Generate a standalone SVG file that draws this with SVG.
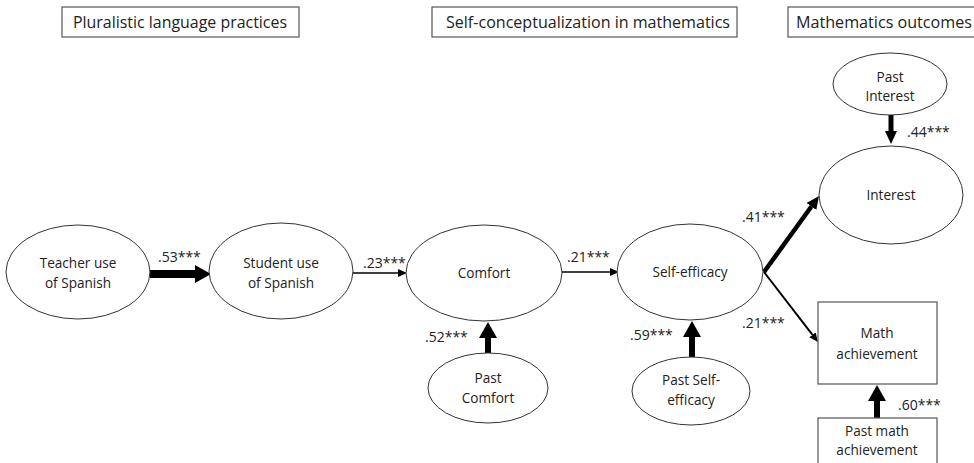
<svg xmlns="http://www.w3.org/2000/svg" width="974" height="463" viewBox="0 0 974 463">
<style>
text{font-family:"Open Sans","Noto Sans","Liberation Sans",sans-serif;fill:#222;font-size:13.6px}
.c{text-anchor:middle}
.h{font-size:16px}
.lb{font-size:14px}
.box{fill:#fff;stroke:#555;stroke-width:1.2}
.el{fill:#fff;stroke:#333;stroke-width:1}
.ln{stroke:#000;fill:none}
</style>
<defs>
<marker id="hl" viewBox="0 -10 20 20" refX="0" refY="0" markerWidth="20" markerHeight="20" markerUnits="userSpaceOnUse" orient="auto"><path d="M0,-9 L16,0 L0,9 z" fill="#000"/></marker>
<marker id="hm" viewBox="0 -10 20 20" refX="0" refY="0" markerWidth="20" markerHeight="20" markerUnits="userSpaceOnUse" orient="auto"><path d="M0,-6 L13,0 L0,6 z" fill="#000"/></marker>
<marker id="hs" viewBox="0 -10 20 20" refX="0" refY="0" markerWidth="20" markerHeight="20" markerUnits="userSpaceOnUse" orient="auto"><path d="M0,-4 L9,0 L0,4 z" fill="#000"/></marker>
</defs>
<rect width="974" height="463" fill="#fff"/>
<g id="hdr1"><rect class="box" x="62" y="7" width="237" height="30"/><text class="h" x="73" y="28" textLength="214" lengthAdjust="spacingAndGlyphs">Pluralistic language practices</text></g>
<g id="hdr2"><rect class="box" x="432" y="7" width="305" height="30"/><text class="h" x="446" y="28" textLength="284" lengthAdjust="spacingAndGlyphs">Self-conceptualization in mathematics</text></g>
<g id="hdr3"><rect class="box" x="788" y="7" width="190" height="30"/><text class="h" x="796" y="28" textLength="176" lengthAdjust="spacingAndGlyphs">Mathematics outcomes</text></g>
<g id="connectors">
<line class="ln" x1="150" y1="274" x2="195" y2="274" stroke-width="8" marker-end="url(#hl)"/>
<line class="ln" x1="353" y1="273" x2="398" y2="273" stroke-width="1.5" marker-end="url(#hs)"/>
<line class="ln" x1="562" y1="272" x2="610" y2="272" stroke-width="1.5" marker-end="url(#hs)"/>
<line class="ln" x1="764" y1="272" x2="811.4" y2="206.5" stroke-width="4.5" marker-end="url(#hm)"/>
<line class="ln" x1="764" y1="272" x2="812.5" y2="334.9" stroke-width="2" marker-end="url(#hs)"/>
<line class="ln" x1="488" y1="353" x2="488" y2="338" stroke-width="6" marker-end="url(#hl)"/>
<line class="ln" x1="692" y1="357" x2="692" y2="337" stroke-width="6" marker-end="url(#hl)"/>
<line class="ln" x1="891" y1="115" x2="891" y2="131" stroke-width="5" marker-end="url(#hm)"/>
<line class="ln" x1="877" y1="418" x2="877" y2="401" stroke-width="6" marker-end="url(#hl)"/>
<text class="lb" x="158" y="262">.53***</text>
<text class="lb" x="363" y="268">.23***</text>
<text class="lb" x="567" y="262">.21***</text>
<text class="lb" x="425" y="342">.52***</text>
<text class="lb" x="630" y="340">.59***</text>
<text class="lb" x="742" y="222">.41***</text>
<text class="lb" x="742" y="328">.21***</text>
<text class="lb" x="907" y="137">.44***</text>
<text class="lb" x="898" y="410">.60***</text>
</g>
<g id="teacher"><ellipse class="el" cx="78" cy="272" rx="72" ry="47"/><text class="c" x="78" y="268">Teacher use</text><text class="c" x="78" y="288">of Spanish</text></g>
<g id="student"><ellipse class="el" cx="281" cy="271" rx="72" ry="48"/><text class="c" x="281" y="268">Student use</text><text class="c" x="281" y="288">of Spanish</text></g>
<g id="comfort"><ellipse class="el" cx="484" cy="273" rx="78" ry="48"/><text class="c" x="484" y="278">Comfort</text></g>
<g id="selfefficacy"><ellipse class="el" cx="690" cy="272" rx="73" ry="48"/><text class="c" x="690" y="277">Self-efficacy</text></g>
<g id="pastcomfort"><ellipse class="el" cx="488" cy="388" rx="60" ry="35"/><text class="c" x="488" y="383">Past</text><text class="c" x="488" y="403">Comfort</text></g>
<g id="pastselfefficacy"><ellipse class="el" cx="691" cy="391" rx="59" ry="34"/><text class="c" x="691" y="385">Past Self-</text><text class="c" x="691" y="405">efficacy</text></g>
<g id="pastinterest"><ellipse class="el" cx="890" cy="84" rx="57" ry="31"/><text class="c" x="890" y="82">Past</text><text class="c" x="890" y="101">Interest</text></g>
<g id="interest"><ellipse class="el" cx="891" cy="195" rx="72" ry="49"/><text class="c" x="891" y="200">Interest</text></g>
<g id="mathach"><rect class="box" x="818" y="302" width="119" height="82"/><text class="c" x="877" y="338">Math</text><text class="c" x="877" y="359">achievement</text></g>
<g id="pastmath"><rect class="box" x="818" y="418" width="119" height="60"/><text class="c" x="877" y="436">Past math</text><text class="c" x="877" y="455">achievement</text></g>
</svg>
